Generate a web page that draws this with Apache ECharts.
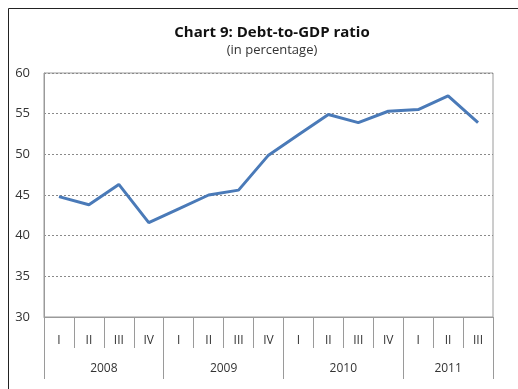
<!DOCTYPE html>
<html>
<head>
<meta charset="utf-8">
<script src="https://cdn.jsdelivr.net/npm/echarts@6/dist/echarts.min.js"></script>
<style>
  html, body { margin: 0; padding: 0; background: #fff; }
  #chart { width: 518px; height: 389px; }
</style>
</head>
<body>
<div id="chart"></div>
<script>
const quarters = ['I', 'II', 'III', 'IV', 'I', 'II', 'III', 'IV', 'I', 'II', 'III', 'IV', 'I', 'II', 'III'];
const years = ['2008', '2009', '2010', '2011'];
const quartersPerYear = [4, 4, 4, 3];
const debtRatio = [44.8, 43.8, 46.3, 41.6, 43.3, 45.0, 45.6, 49.9, 52.4, 54.9, 53.9, 55.3, 55.5, 57.2, 53.9];
const yTicks = [30, 35, 40, 45, 50, 55, 60];

// year boundaries and centres on a 0..15 value scale
const yearEdges = [0];
const yearCentres = [];
quartersPerYear.forEach(n => {
  const start = yearEdges[yearEdges.length - 1];
  yearCentres.push(start + n / 2);
  yearEdges.push(start + n);
});

const font = '"Open Sans", "Liberation Sans", sans-serif';
const gray = '#9a9a9a';

let myChart = echarts.init(document.getElementById('chart'));

myChart.setOption({
  animation: false,
  title: {
    text: 'Chart 9: Debt-to-GDP ratio',
    subtext: '(in percentage)',
    left: 267,
    textAlign: 'center',
    top: 20,
    itemGap: 4,
    textStyle: { fontFamily: font, fontSize: 15, fontWeight: 'bold', color: '#111' },
    subtextStyle: { fontFamily: font, fontSize: 13, color: '#333' }
  },
  graphic: [
    {
      type: 'rect',
      shape: { x: 8.5, y: 8.5, width: 560, height: 420 },
      style: { fill: 'none', stroke: '#222', lineWidth: 1 },
      silent: true
    }
  ],
  grid: {
    left: 44,
    right: 25,
    top: 73,
    bottom: 72,
    show: true,
    borderColor: gray,
    borderWidth: 1
  },
  xAxis: [
    {
      type: 'category',
      data: quarters,
      position: 'bottom',
      axisLine: { show: true, lineStyle: { color: gray } },
      axisTick: { show: true, interval: 0, length: 31, lineStyle: { color: gray } },
      axisLabel: { interval: 0, margin: 18, fontFamily: font, fontSize: 12, color: '#333' },
      splitLine: { show: false }
    },
    {
      type: 'value',
      position: 'bottom',
      min: 0,
      max: quarters.length,
      axisLine: { show: false },
      axisTick: { show: true, length: 62, customValues: yearEdges, lineStyle: { color: gray } },
      axisLabel: {
        customValues: yearCentres,
        margin: 46,
        fontFamily: font,
        fontSize: 12,
        color: '#333',
        formatter: v => years[yearCentres.indexOf(v)] || ''
      },
      splitLine: { show: false }
    }
  ],
  yAxis: {
    type: 'value',
    min: yTicks[0],
    max: yTicks[yTicks.length - 1],
    interval: 5,
    axisLine: { show: true, lineStyle: { color: gray } },
    axisTick: { show: false },
    axisLabel: { margin: 14, fontFamily: font, fontSize: 13, color: '#333' },
    splitLine: { show: true, lineStyle: { color: '#8a8a8a', type: [2, 2], width: 1 } }
  },
  series: [
    {
      type: 'line',
      xAxisIndex: 0,
      data: debtRatio,
      symbol: 'none',
      lineStyle: { color: '#4a7ab8', width: 3 }
    }
  ]
});
</script>
</body>
</html>
